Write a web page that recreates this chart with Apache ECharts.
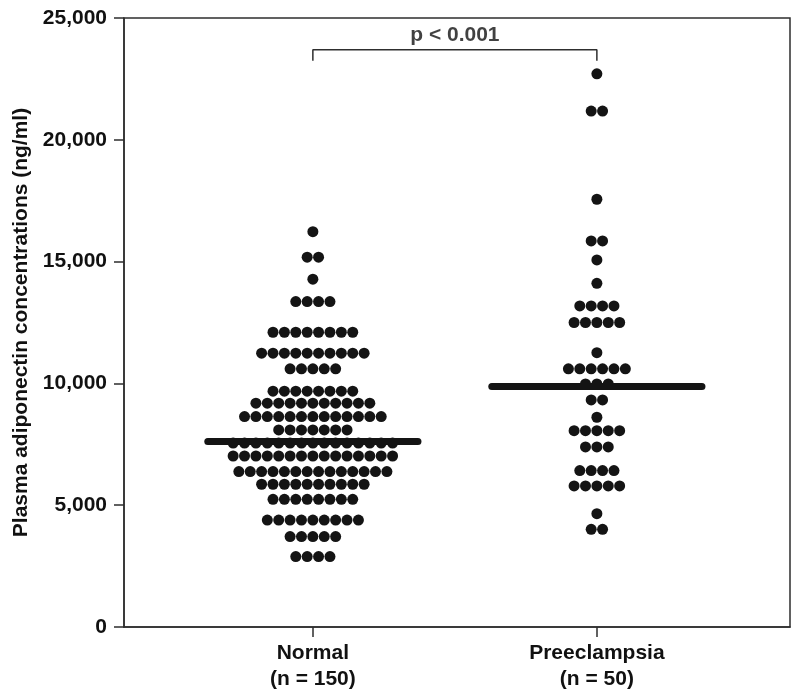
<!DOCTYPE html>
<html>
<head>
<meta charset="utf-8">
<script src="https://cdn.jsdelivr.net/npm/echarts@6/dist/echarts.min.js"></script>
<style>
html,body{margin:0;padding:0;background:#fff;}
#chart{width:800px;height:696px;}
</style>
</head>
<body>
<div id="chart"></div>
<script>
// ---- data ----
const categories = ["Normal\n(n = 150)", "Preeclampsia\n(n = 50)"];
const categoryPositions = [1, 2];

// Normal group: value of each dot row and number of dots in that row
const normalRowValues = [16230, 15180, 14280, 13360, 12100, 11240, 10600, 9680, 9190, 8640, 8090, 7550, 7020, 6380, 5860, 5240, 4390, 3710, 2890];
const normalRowCounts = [1, 2, 1, 4, 8, 10, 5, 8, 11, 13, 7, 15, 15, 14, 10, 8, 9, 5, 4];

// Preeclampsia group
const preRowValues = [22710, 21180, 17560, 15850, 15070, 14110, 13180, 12500, 11260, 10600, 9980, 9320, 8610, 8060, 7390, 6420, 5790, 4650, 4010];
const preRowCounts = [1, 2, 1, 2, 1, 1, 4, 5, 1, 6, 3, 2, 1, 5, 3, 4, 5, 1, 2];

// Medians (horizontal bars)
const medians = [7610, 9870];

// Significance bracket
const pText = "p < 0.001";
const bracketTop = 23700;
const bracketBottom = 23250;
const pTextValue = 24290;

const yTicks = [0, 5000, 10000, 15000, 20000, 25000];

// ---- layout helpers ----
const dotSpacing = 0.0401;   // horizontal distance between neighbouring dots (x units)
const medianHalf = 0.37;     // half length of median bar (x units)

function expandRows(center, values, counts) {
  const pts = [];
  values.forEach((v, r) => {
    const n = counts[r];
    for (let i = 0; i < n; i++) {
      pts.push([center + (i - (n - 1) / 2) * dotSpacing, v]);
    }
  });
  return pts;
}

const normalPts = expandRows(categoryPositions[0], normalRowValues, normalRowCounts);
const prePts = expandRows(categoryPositions[1], preRowValues, preRowCounts);

const FONT = "'Liberation Sans', Arial, Helvetica, sans-serif";
const TXT = '#111111';
const DOT = '#141414';
const AX = '#2e2e2e';

const chart = echarts.init(document.getElementById('chart'), null, {renderer: 'canvas'});
chart.setOption({
  animation: false,
  backgroundColor: '#ffffff',
  grid: {
    left: 124, top: 18, right: 10, bottom: 69,
    show: true, borderColor: AX, borderWidth: 1.5,
    containLabel: false, outerBoundsMode: 'none'
  },
  xAxis: {
    type: 'value',
    min: 0.335, max: 2.68,
    splitLine: {show: false},
    axisLine: {show: true, onZero: false, lineStyle: {color: AX, width: 1.5}},
    axisTick: {show: true, customValues: categoryPositions, length: 10, lineStyle: {color: AX, width: 1.5}},
    axisLabel: {
      show: true,
      customValues: categoryPositions,
      formatter: v => categories[categoryPositions.indexOf(Math.round(v))] || '',
      fontFamily: FONT, fontWeight: 'bold', fontSize: 21, color: TXT,
      lineHeight: 26, margin: 13
    }
  },
  yAxis: {
    type: 'value',
    min: 0, max: 25000, interval: 5000,
    splitLine: {show: false},
    axisLine: {show: true, lineStyle: {color: AX, width: 1.5}},
    axisTick: {show: true, length: 10, lineStyle: {color: AX, width: 1.5}},
    axisLabel: {
      fontFamily: FONT, fontWeight: 'bold', fontSize: 21, color: TXT, margin: 17,
      formatter: v => yTicks.includes(v) ? v.toLocaleString('en-US') : ''
    },
    name: 'Plasma adiponectin concentrations (ng/ml)',
    nameLocation: 'middle',
    nameGap: 91,
    nameTextStyle: {fontFamily: FONT, fontWeight: 'bold', fontSize: 21, color: TXT}
  },
  series: [
    {
      type: 'scatter', name: 'Normal', data: normalPts,
      symbol: 'circle', symbolSize: 11, itemStyle: {color: DOT, opacity: 1}, z: 2
    },
    {
      type: 'scatter', name: 'Preeclampsia', data: prePts,
      symbol: 'circle', symbolSize: 11, itemStyle: {color: DOT, opacity: 1}, z: 2
    },
    {
      type: 'line', name: 'median-normal',
      data: [[categoryPositions[0] - medianHalf, medians[0]], [categoryPositions[0] + medianHalf, medians[0]]],
      symbol: 'none', lineStyle: {color: DOT, width: 7, cap: 'round'}, z: 3
    },
    {
      type: 'line', name: 'median-pre',
      data: [[categoryPositions[1] - medianHalf, medians[1]], [categoryPositions[1] + medianHalf, medians[1]]],
      symbol: 'none', lineStyle: {color: DOT, width: 7, cap: 'round'}, z: 3
    },
    {
      type: 'line', name: 'bracket',
      data: [[categoryPositions[0], bracketBottom], [categoryPositions[0], bracketTop],
             [categoryPositions[1], bracketTop], [categoryPositions[1], bracketBottom]],
      symbol: 'none', lineStyle: {color: AX, width: 1.5}, z: 3
    },
    {
      type: 'scatter', name: 'pvalue',
      data: [[(categoryPositions[0] + categoryPositions[1]) / 2, pTextValue]],
      symbolSize: 1, itemStyle: {color: 'rgba(0,0,0,0)'},
      label: {show: true, position: 'inside', formatter: pText,
              fontFamily: FONT, fontWeight: 'bold', fontSize: 21, color: TXT},
      z: 4
    }
  ]
});
</script>
</body>
</html>
